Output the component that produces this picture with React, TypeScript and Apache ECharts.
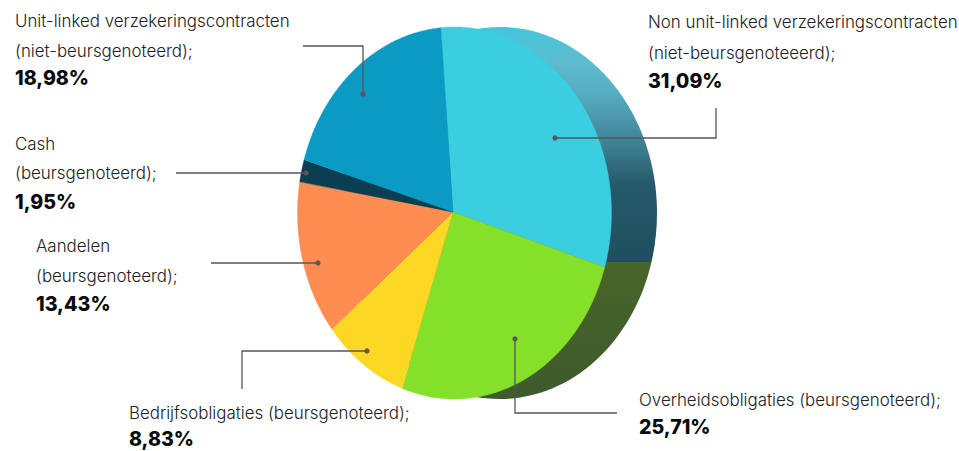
import React, { useEffect, useRef } from "react";
import * as echarts from "echarts";

const categories = [
  "Non unit-linked verzekeringscontracten",
  "Overheidsobligaties (beursgenoteerd);",
  "Bedrijfsobligaties (beursgenoteerd);",
  "Aandelen",
  "Cash",
  "Unit-linked verzekeringscontracten",
];
const subtitles = ["(niet-beursgenoteeerd);", "", "", "(beursgenoteerd);", "(beursgenoteerd);", "(niet-beursgenoteerd);"];
const values = [31.09, 25.71, 8.83, 13.43, 1.95, 18.98];
const sliceColors = ["#3bcde0", "#84e028", "#fcd825", "#ff8c50", "#0b3e50", "#0a9ac4"];

const WIDTH = 959;
const HEIGHT = 451;
const PIE = { hubX: 453, hubY: 212, cx: 454.5, cy: 213, rx: 157, ry: 186, start: -5 };
const SIDE = { cx: 500, cy: 213, rx: 157, ry: 186 };
const SANS = "Inter";

// label anchor: x and the y of each line's centre
const labelLayout = [
  { x: 648, ys: [22, 53, 81] },
  { x: 639, ys: [400, 427] },
  { x: 129, ys: [413, 439] },
  { x: 36, ys: [246, 276, 304] },
  { x: 15, ys: [144, 173, 202] },
  { x: 15, ys: [21, 51, 78] },
];
const leaders = [
  [[555, 138], [716, 138], [716, 108]],
  [[617, 413], [515, 413], [515, 339]],
  [[242, 389], [242, 351], [367, 351]],
  [[211, 263], [318, 263]],
  [[176, 173], [306, 173]],
  [[303, 46], [363, 46], [363, 94]],
];
const dots = [[555, 138], [515, 339], [367, 351], [318, 263], [306, 173], [363, 94]];

const pct = (v: number) => v.toFixed(2).replace(".", ",") + "%";

function ellipsePoint(e: { cx: number; cy: number; rx: number; ry: number }, deg: number) {
  const a = (deg * Math.PI) / 180;
  return [e.cx + Math.sin(a) * e.rx, e.cy - Math.cos(a) * e.ry];
}

export default function App() {
  const ref = useRef<HTMLDivElement>(null);
  useEffect(() => {
    document.body.style.margin = "0";
    document.body.style.background = "#fff";
    const chart = echarts.init(ref.current!, undefined, { renderer: "svg", width: WIDTH, height: HEIGHT });
    const total = values.reduce((a, b) => a + b, 0);
    const cumulative = values.map((_, i) => values.slice(0, i).reduce((a, b) => a + b, 0));

    const sideTop = SIDE.cy - SIDE.ry;
    const stop = (y: number) => (y - sideTop) / (2 * SIDE.ry);
    const sideFill = new echarts.graphic.LinearGradient(0, 0, 0, 1, [
      { offset: 0, color: "#44c6dc" },
      { offset: stop(60), color: "#5cbcd0" },
      { offset: stop(90), color: "#58afc4" },
      { offset: stop(135), color: "#44899c" },
      { offset: stop(185), color: "#25596a" },
      { offset: stop(262), color: "#1f4f5e" },
      { offset: stop(262), color: "#48652a" },
      { offset: 1, color: "#3f5a2c" },
    ]);

    const graphic: any[] = [
      {
        type: "ellipse",
        z: 1,
        shape: { cx: SIDE.cx, cy: SIDE.cy, rx: SIDE.rx, ry: SIDE.ry },
        style: { fill: sideFill },
      },
    ];
    leaders.forEach((pts) => {
      graphic.push({
        type: "polyline",
        z: 20,
        shape: { points: pts },
        style: { stroke: "#57545a", lineWidth: 1.3, fill: "none" },
      });
    });
    dots.forEach(([x, y]) => {
      graphic.push({
        type: "circle",
        z: 21,
        shape: { cx: x, cy: y, r: 2.6 },
        style: { fill: "#5a5560" },
      });
    });
    categories.forEach((name, i) => {
      const lay = labelLayout[i];
      const lines = subtitles[i] ? [name, subtitles[i]] : [name];
      lines.forEach((t, k) => {
        graphic.push({
          type: "text",
          z: 22,
          x: lay.x,
          y: lay.ys[k],
          style: {
            text: t,
            fill: "#222222",
            font: `300 16.9px ${SANS}`,
            verticalAlign: "middle",
          },
        });
      });
      graphic.push({
        type: "text",
        z: 22,
        x: lay.x,
        y: lay.ys[lines.length],
        style: {
          text: pct(values[i]),
          fill: "#0a0a0a",
          font: `800 19.6px ${SANS}`,
          verticalAlign: "middle",
        },
      });
    });

    chart.setOption({
      animation: false,
      backgroundColor: "#fff",
      graphic,
      series: [
        {
          type: "custom",
          coordinateSystem: "none",
          z: 5,
          silent: true,
          data: values.map((v, i) => ({ name: categories[i], value: [v] })),
          renderItem: (params: any, api: any) => {
            const i = params.dataIndex;
            const v = api.value(0);
            const from = PIE.start + (cumulative[i] / total) * 360;
            const to = from + (v / total) * 360;
            const pts: number[][] = [[PIE.hubX, PIE.hubY]];
            const n = Math.max(2, Math.ceil(to - from));
            for (let k = 0; k <= n; k++) {
              pts.push(ellipsePoint(PIE, from + ((to - from) * k) / n));
            }
            return {
              type: "polygon",
              shape: { points: pts },
              style: { fill: sliceColors[i], stroke: sliceColors[i], lineWidth: 0.4 },
            };
          },
        },
      ],
    });
    return () => chart.dispose();
  }, []);
  return <div ref={ref} style={{ position: "fixed", left: 0, top: 0, width: WIDTH, height: HEIGHT }} />;
}
